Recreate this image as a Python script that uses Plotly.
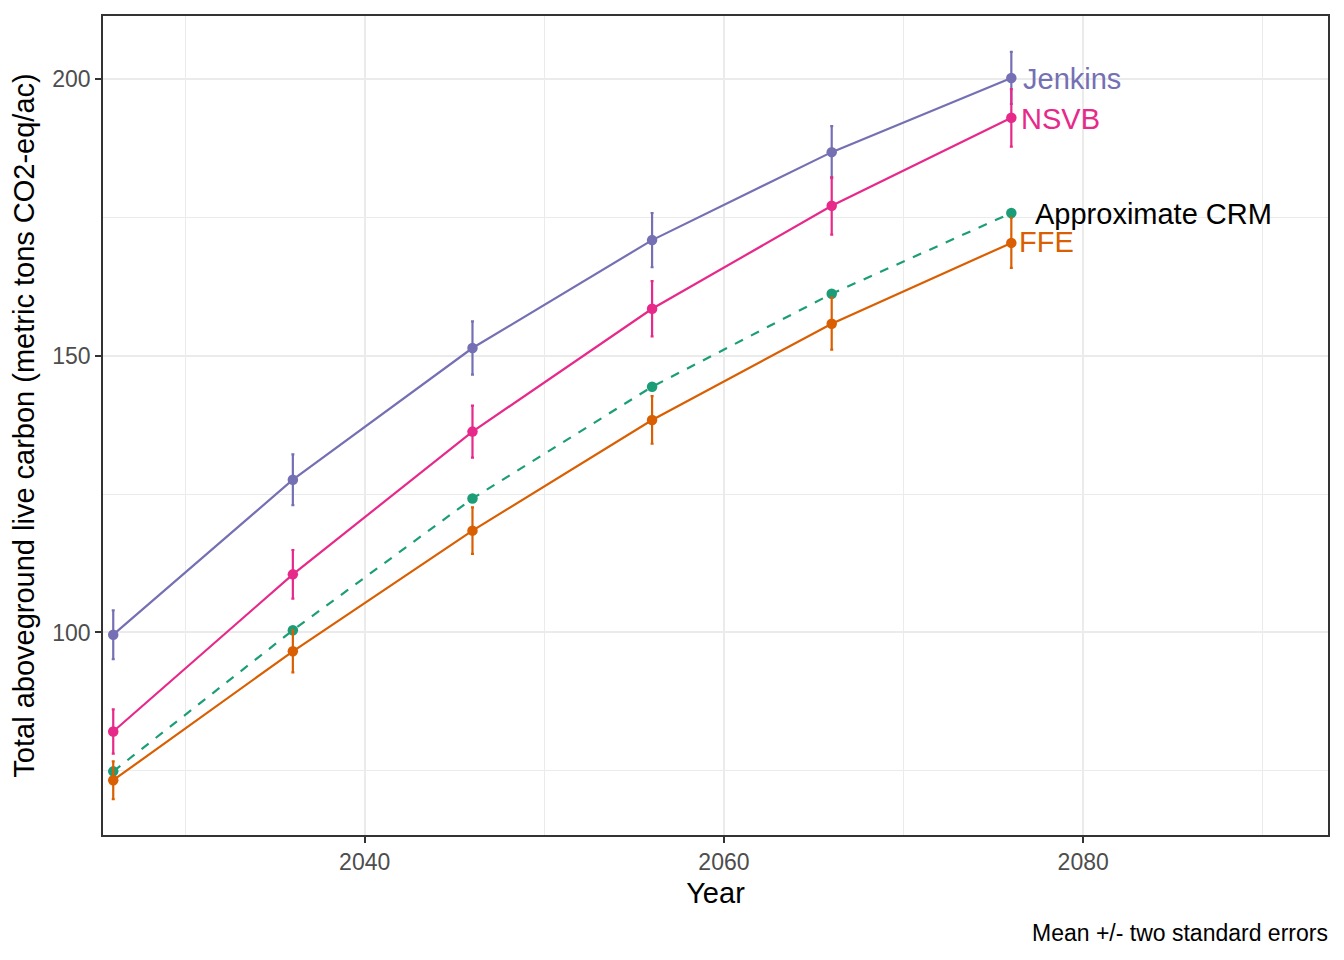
import plotly.graph_objects as go

years = [2026, 2036, 2046, 2056, 2066, 2076]

series_names = ["Jenkins", "NSVB", "Approximate CRM", "FFE"]
jenkins = [99.6, 127.6, 151.4, 170.9, 186.8, 200.2]
nsvb = [82.1, 110.5, 136.3, 158.5, 177.1, 193.0]
crm = [74.9, 100.4, 124.2, 144.4, 161.2, 175.8]
ffe = [73.3, 96.6, 118.4, 138.4, 155.8, 170.4]

jenkins_err = [4.4, 4.6, 4.8, 4.9, 4.7, 4.7]
nsvb_err = [4.0, 4.4, 4.7, 5.0, 5.2, 5.2]
crm_err = None
ffe_err = [3.4, 3.8, 4.2, 4.3, 4.7, 4.5]

colors = {"Jenkins": "#7570B3", "NSVB": "#E7298A", "Approximate CRM": "#1B9E77", "FFE": "#D95F02"}
values = {"Jenkins": jenkins, "NSVB": nsvb, "Approximate CRM": crm, "FFE": ffe}
errors = {"Jenkins": jenkins_err, "NSVB": nsvb_err, "Approximate CRM": crm_err, "FFE": ffe_err}
dashes = {"Jenkins": "solid", "NSVB": "solid", "Approximate CRM": "dash", "FFE": "solid"}
label_shift = {"Jenkins": (10, -1), "NSVB": (8, -1), "Approximate CRM": (22, -1), "FFE": (6, 1)}

FONT = "Liberation Sans, Arial, sans-serif"

fig = go.Figure()
for name in ["Approximate CRM", "FFE", "Jenkins", "NSVB"]:
    err = errors[name]
    fig.add_trace(go.Scatter(
        x=years, y=values[name], mode="lines+markers", name=name,
        line=dict(color=colors[name], width=2.2, dash=dashes[name]),
        marker=dict(color=colors[name], size=10.5),
        error_y=(dict(type="data", array=err, visible=True, color=colors[name], thickness=2.2, width=1.5)
                 if err is not None else None),
        showlegend=False,
    ))

for name in series_names:
    dx, dy = label_shift[name]
    fig.add_annotation(
        x=years[-1], y=values[name][-1], text=name, showarrow=False,
        xanchor="left", yanchor="middle", xshift=dx, yshift=dy,
        font=dict(family=FONT, size=29, color=("black" if name == "Approximate CRM" else colors[name])),
    )

fig.add_annotation(
    xref="paper", yref="paper", x=1, y=-0.1195, xshift=2, text="Mean +/- two standard errors",
    showarrow=False, xanchor="right", yanchor="middle",
    font=dict(family=FONT, size=23, color="black"),
)

fig.update_layout(
    width=1336, height=952,
    margin=dict(l=95, r=16, t=6, b=125),
    paper_bgcolor="white", plot_bgcolor="white",
    font=dict(family=FONT),
)
fig.update_xaxes(
    range=[2025.43, 2093.63], tickvals=[2040, 2060, 2080], ticks="outside", ticklen=6,
    tickwidth=1.5, tickcolor="#333333",
    tickfont=dict(size=23, color="#4D4D4D"),
    showgrid=True, gridcolor="#EBEBEB", gridwidth=1.5,
    minor=dict(tickvals=[2030, 2050, 2070, 2090], showgrid=True, gridcolor="#EBEBEB", gridwidth=0.8, ticks=""),
    showline=True, linecolor="#333333", linewidth=1.5, mirror=True, zeroline=False,
    title=dict(text="Year", font=dict(size=29, color="black"), standoff=8),
)
fig.update_yaxes(
    range=[63.4, 211.4], tickvals=[100, 150, 200], ticks="outside", ticklen=6,
    tickwidth=1.5, tickcolor="#333333",
    tickfont=dict(size=23, color="#4D4D4D"),
    showgrid=True, gridcolor="#EBEBEB", gridwidth=1.5,
    minor=dict(tickvals=[75, 125, 175], showgrid=True, gridcolor="#EBEBEB", gridwidth=0.8, ticks=""),
    showline=True, linecolor="#333333", linewidth=1.5, mirror=True, zeroline=False,
    title=dict(text="Total aboveground live carbon (metric tons CO2-eq/ac)", font=dict(size=29, color="black"), standoff=9),
)

fig.write_html("out.html")
